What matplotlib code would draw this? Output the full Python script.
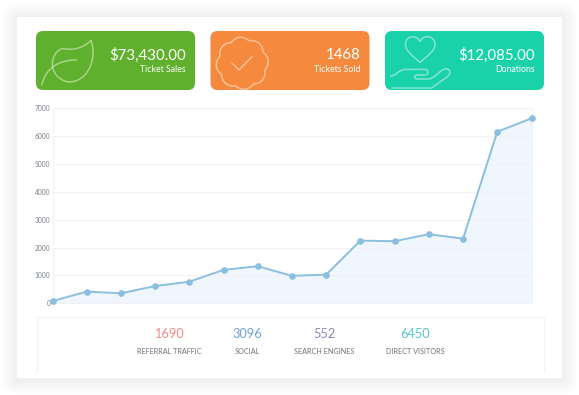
import numpy as np
import matplotlib
matplotlib.use('Agg')
from matplotlib import pyplot as plt
from matplotlib.patches import FancyBboxPatch, Rectangle, PathPatch
from matplotlib.path import Path

plt.rcParams['font.family'] = ['Lato', 'DejaVu Sans']

# chart values
visits = [80, 420, 360, 620, 775, 1200, 1330, 985, 1030, 2250, 2230, 2480, 2320, 6160, 6640]
y_ticks = [0, 1000, 2000, 3000, 4000, 5000, 6000, 7000]

# tiles
tile_values = ['$73,430.00', '1468', '$12,085.00']
tile_labels = ['Ticket Sales', 'Tickets Sold', 'Donations']
tile_colors = ['#5FB02C', '#F58A3E', '#1AD2A9']
tile_lefts = [36, 210.5, 385]

# bottom stats
stat_values = ['1690', '3096', '552', '6450']
stat_labels = ['REFERRAL TRAFFIC', 'SOCIAL', 'SEARCH ENGINES', 'DIRECT VISITORS']
stat_colors = ['#F68B86', '#6FA3D8', '#9186BB', '#57C3D2']
stat_centers = [169, 247.5, 324, 415]

W, H = 579, 395
fig = plt.figure(figsize=(W / 100, H / 100), dpi=100, facecolor='white')

# background layer in pixel coordinates
bg = fig.add_axes([0, 0, 1, 1])
bg.set_xlim(0, W)
bg.set_ylim(H, 0)
bg.axis('off')

# soft shadow round the white card
for grow in range(16, 0, -1):
    bg.add_patch(FancyBboxPatch((17 - grow, 17 - grow + 1), 545 + 2 * grow, 361 + 2 * grow,
                                boxstyle='round,pad=0,rounding_size=%d' % grow,
                                fc='black', ec='none', alpha=0.0035))
bg.add_patch(Rectangle((17, 17), 545, 361, fc='white', ec='none'))

# the three tiles
for left, color, value, label in zip(tile_lefts, tile_colors, tile_values, tile_labels):
    bg.add_patch(FancyBboxPatch((left, 31), 159, 59, boxstyle='round,pad=0,rounding_size=7',
                                fc=color, ec='none'))
    bg.text(left + 150, 55, value, color='white', fontsize=10.8, ha='right', va='center')
    bg.text(left + 150, 70, label, color='white', fontsize=6.3, ha='right', va='center')

icon = dict(fc='none', ec='white', alpha=0.45, lw=1.1, capstyle='round', joinstyle='round')

# leaf
leaf = Path([(91, 40.7), (80, 50), (72, 50), (62, 48.5),
             (50, 53), (47, 75), (66, 81.5),
             (86, 85), (98, 60), (91, 40.7)],
            [Path.MOVETO, Path.CURVE4, Path.CURVE4, Path.CURVE4,
             Path.CURVE4, Path.CURVE4, Path.CURVE4,
             Path.CURVE4, Path.CURVE4, Path.CURVE4])
stem = Path([(41.7, 85), (46, 68), (58, 60), (76.7, 60)],
            [Path.MOVETO, Path.CURVE4, Path.CURVE4, Path.CURVE4])
bg.add_patch(PathPatch(leaf, **icon))
bg.add_patch(PathPatch(stem, **icon))

# scalloped badge with a tick
theta = np.linspace(0, 2 * np.pi, 400)
radius = 23.5 + 2.6 * np.abs(np.cos(4 * theta + np.pi / 8))
bg.plot(242.3 + radius * np.cos(theta), 63.3 + radius * np.sin(theta), color='white', alpha=0.45, lw=1.1)
bg.plot([232, 239, 252], [63, 70, 56.7], color='white', alpha=0.45, lw=1.1,
        solid_capstyle='round', solid_joinstyle='round')

# heart over a hand
heart = Path([(420, 62.3), (410, 54), (405.5, 50), (405.5, 44.5),
              (405.5, 39), (409, 36.7), (412.5, 36.7),
              (416, 36.7), (418.5, 38.5), (420, 41.5),
              (421.5, 38.5), (424, 36.7), (427.5, 36.7),
              (431, 36.7), (435, 39), (435, 44.5),
              (435, 50), (430, 54), (420, 62.3)],
             [Path.MOVETO] + [Path.CURVE4] * 18)
hand = Path([(390.7, 76), (396, 76), (399, 69.5), (405, 69.5),
             (412, 69.5), (418, 69.3), (424, 69.3),
             (429, 69.3), (430, 75), (424, 75),
             (420, 75), (418, 75), (417, 75),
             (414, 75), (414, 79), (417, 79),
             (421, 79), (425, 79), (429, 79),
             (435, 78), (440, 70), (445, 69),
             (450, 68), (452, 73), (447, 77),
             (441, 81), (436, 85), (431.7, 88),
             (418, 88), (405, 88), (391.7, 88)],
            [Path.MOVETO] + [Path.CURVE4] * 30)
bg.add_patch(PathPatch(heart, **icon))
bg.add_patch(PathPatch(hand, **icon))

# bottom panel, open at the foot
bg.plot([36.5, 36.5, 543.5, 543.5], [372, 317, 317, 372], color='#EEF3F6', lw=0.9)
for x, value, label, color in zip(stat_centers, stat_values, stat_labels, stat_colors):
    bg.text(x, 333.5, value, color=color, fontsize=9.2, ha='center', va='center')
    bg.text(x, 351, label, color='#6E727A', fontsize=5.2, ha='center', va='center')

# line chart, axes box placed on the plot area of the picture
ax_left, ax_right, ax_top, ax_bottom = 52.5, 531.5, 108.3, 303.3
ax = fig.add_axes([ax_left / W, 1 - ax_bottom / H, (ax_right - ax_left) / W, (ax_bottom - ax_top) / H])
ax.patch.set_alpha(0)
x = np.arange(len(visits))
ax.set_xlim(0, len(visits) - 1)
ax.set_ylim(0, 7000)
ax.fill_between(x, visits, 0, color='#F0F6FD', lw=0, zorder=1)
ax.grid(axis='y', color='#F1F2F5', lw=0.9, zorder=2)
ax.set_axisbelow(False)
ax.plot(x, visits, color='#8BBFE0', lw=1.4, marker='o', ms=4.8, mew=0, clip_on=False, zorder=3)

ax.set_xticks([])
ax.set_yticks(y_ticks)
ax.tick_params(axis='y', length=0, pad=1.5, labelsize=4.8, labelcolor='#7A808C')
for side in ax.spines:
    ax.spines[side].set_color('#F1F2F5')
    ax.spines[side].set_linewidth(0.9)

fig.savefig('out.png', dpi=100, facecolor='white')
